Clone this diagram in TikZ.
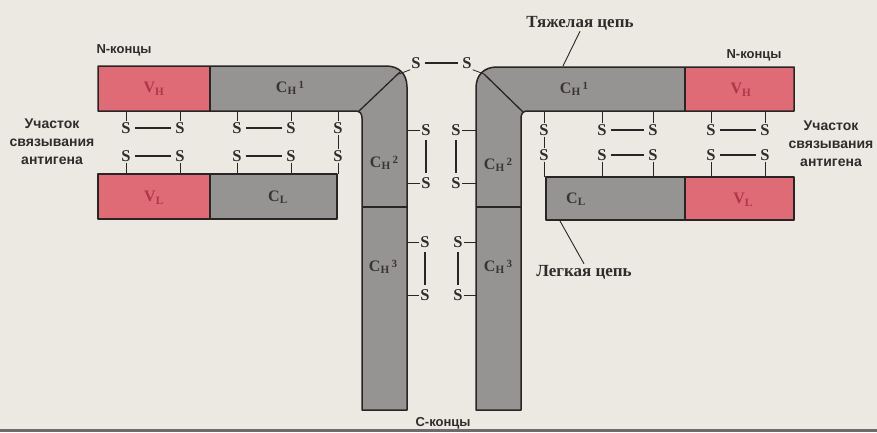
\documentclass[tikz,border=0pt]{standalone}
\usepackage{fontspec}
\setmainfont{Liberation Serif}
\newfontfamily\labsans{Liberation Sans}
\definecolor{bgc}{HTML}{EBE9E1}
\definecolor{grayc}{HTML}{969493}
\definecolor{redc}{HTML}{DE6B75}
\definecolor{linec}{HTML}{2A2525}
\definecolor{domtext}{HTML}{3A3434}
\definecolor{domred}{HTML}{B0364A}
\definecolor{txtc}{HTML}{302C2C}
\definecolor{stripc}{HTML}{6E6C6A}
\newcommand\domlab[2]{C\textsubscript{#1}\raisebox{0.55ex}{\fontsize{11}{11}\selectfont\,#2}}
\newcommand\vlab[1]{V\textsubscript{#1}}
\tikzset{
  chainline/.style={draw=linec, line width=1.5pt, line join=round},
  divline/.style={draw=linec, line width=1.3pt},
  sbond/.style={font=\bfseries\fontsize{16.5}{16.5}\selectfont, text=txtc, inner sep=1pt},
  bondline/.style={draw=linec, line width=1.1pt, shorten >=3pt, shorten <=3pt},
  tickline/.style={draw=linec, line width=0.8pt},
  dom/.style={font=\bfseries\fontsize{16}{16}\selectfont, text=domtext, inner sep=0pt},
  domr/.style={font=\bfseries\fontsize{16}{16}\selectfont, text=domred, inner sep=0pt},
  sanslab/.style={font=\labsans\bfseries\fontsize{13}{18}\selectfont, text=txtc, align=center, inner sep=1pt},
  sitelab/.style={font=\labsans\bfseries\fontsize{14}{18}\selectfont, text=txtc, align=center, inner sep=1pt},
  seriflab/.style={font=\bfseries\fontsize{17}{17}\selectfont, text=txtc, inner sep=1pt},
  leader/.style={draw=linec, line width=0.9pt}
}
\begin{document}
\begin{tikzpicture}[x=1pt,y=-1pt]
\useasboundingbox (0,0) rectangle (877,432);
\fill[bgc] (0,0) rectangle (877,432);
\fill[stripc] (0,428.5) rectangle (877,432);

% ---------- left heavy chain ----------
\def\hpathL{(98,66) -- (386,66) .. controls (399,66) and (407,74) .. (407,87) -- (407,410) -- (362,410) -- (362,118) .. controls (362,114) and (360,111) .. (356,111) -- (98,111) -- cycle}
\fill[grayc] \hpathL;
\fill[redc] (98,66) rectangle (210,111);
\draw[chainline] \hpathL;
\draw[divline] (210,66) -- (210,111);
\draw[divline] (358,112) -- (400,72);
\draw[divline] (362,207) -- (407,207);
% left light chain
\fill[redc] (98,174) rectangle (210,219);
\fill[grayc] (210,174) rectangle (337,219);
\draw[chainline] (98,174) rectangle (337,219);
\draw[divline] (210,174) -- (210,219);

% ---------- right heavy chain ----------
\def\hpathR{(794,67) -- (497,67) .. controls (484,67) and (476,75) .. (476,88) -- (476,410) -- (521,410) -- (521,118) .. controls (521,114) and (523,111) .. (527,111) -- (794,111) -- cycle}
\fill[grayc] \hpathR;
\fill[redc] (685,67) rectangle (794,111);
\draw[chainline] \hpathR;
\draw[divline] (685,67) -- (685,111);
\draw[divline] (523,112) -- (484,74);
\draw[divline] (476,207) -- (521,207);
% right light chain
\fill[grayc] (546,177) rectangle (685,220);
\fill[redc] (685,177) rectangle (794,220);
\draw[chainline] (546,177) rectangle (794,220);
\draw[divline] (685,177) -- (685,220);

% ---------- domain labels ----------
\node[domr] (vhL) at (154,89) {\vlab{H}};
\node[dom] (ch1L) at (290,88) {\domlab{H}{1}};
\node[dom] (ch2L) at (384,163) {\domlab{H}{2}};
\node[dom] (ch3L) at (383,267) {\domlab{H}{3}};
\node[domr] (vlL) at (154,198) {\vlab{L}};
\node[dom] (clL) at (278,197) {C\textsubscript{L}};
\node[dom] (ch1R) at (574,89) {\domlab{H}{1}};
\node[domr] (vhR) at (741,90) {\vlab{H}};
\node[dom] (ch2R) at (498,165) {\domlab{H}{2}};
\node[dom] (ch3R) at (498,267) {\domlab{H}{3}};
\node[dom] (clR) at (576,199) {C\textsubscript{L}};
\node[domr] (vlR) at (743,200) {\vlab{L}};

% ---------- S-S bonds, left pair ----------
\coordinate (hbL) at (0,111);
\coordinate (ltL) at (0,174);
\foreach \i/\x in {1/126,2/180,3/237,4/291,5/338}{
  \node[sbond] (lu\i) at (\x,128) {S};
  \node[sbond] (ll\i) at (\x,156) {S};
  \draw[tickline] (lu\i.north) -- (lu\i.north |- hbL);
  \draw[tickline] (ll\i.south) -- (ll\i.south |- ltL);
}
\draw[bondline] (lu1) -- (lu2);
\draw[bondline] (ll1) -- (ll2);
\draw[bondline] (lu3) -- (lu4);
\draw[bondline] (ll3) -- (ll4);
\draw[tickline] (lu5.south) -- (ll5.north);

% ---------- S-S bonds, right pair ----------
\coordinate (hbR) at (0,111);
\coordinate (ltR) at (0,177);
\foreach \i/\x in {1/544,2/602,3/653,4/711,5/765}{
  \node[sbond] (ru\i) at (\x,130) {S};
  \node[sbond] (rl\i) at (\x,155) {S};
  \draw[tickline] (ru\i.north) -- (ru\i.north |- hbR);
  \draw[tickline] (rl\i.south) -- (rl\i.south |- ltR);
}
\draw[bondline] (ru2) -- (ru3);
\draw[bondline] (rl2) -- (rl3);
\draw[bondline] (ru4) -- (ru5);
\draw[bondline] (rl4) -- (rl5);
\draw[tickline] (ru1.south) -- (rl1.north);

% ---------- hinge bonds ----------
\coordinate (cornL) at (399,74);
\coordinate (cornR) at (484,74);
\node[sbond] (ht1) at (416,63) {S};
\node[sbond] (ht2) at (467,63) {S};
\draw[bondline] (ht1) -- (ht2);
\draw[tickline] (cornL) -- (ht1.south west);
\draw[tickline] (cornR) -- (ht2.south east);

\coordinate (stemLr) at (407,0);
\coordinate (stemRl) at (476,0);
\node[sbond] (hl1) at (426,130) {S};
\node[sbond] (hl2) at (426,183) {S};
\node[sbond] (hr1) at (456,130) {S};
\node[sbond] (hr2) at (456,183) {S};
\node[sbond] (gl1) at (425,242) {S};
\node[sbond] (gl2) at (425,295) {S};
\node[sbond] (gr1) at (458,242) {S};
\node[sbond] (gr2) at (458,295) {S};
\foreach \n in {hl1,hl2,gl1,gl2}{
  \draw[tickline] (\n.west) -- (\n.west -| stemLr);
}
\foreach \n in {hr1,hr2,gr1,gr2}{
  \draw[tickline] (\n.east) -- (\n.east -| stemRl);
}
\draw[bondline] (hl1) -- (hl2);
\draw[bondline] (hr1) -- (hr2);
\draw[bondline] (gl1) -- (gl2);
\draw[bondline] (gr1) -- (gr2);

% ---------- labels ----------
\node[sanslab] (nL) at (124,50) {N-концы};
\node[sanslab] (nR) at (754,55) {N-концы};
\node[sitelab] (asL) at (52,142) {Участок\\связывания\\антигена};
\node[sitelab] (asR) at (831,144) {Участок\\связывания\\антигена};
\node[sanslab] (cC) at (443,423) {C-концы};
\node[seriflab] (heavy) at (580,23) {Тяжелая цепь};
\node[seriflab] (light) at (584,272) {Легкая цепь};
\coordinate (heavyTop) at (563,66);
\coordinate (lightTop) at (560,221);
\draw[leader] (heavyTop) -- (heavy.south);
\draw[leader] (lightTop) -- (light.north);
\end{tikzpicture}
\end{document}
